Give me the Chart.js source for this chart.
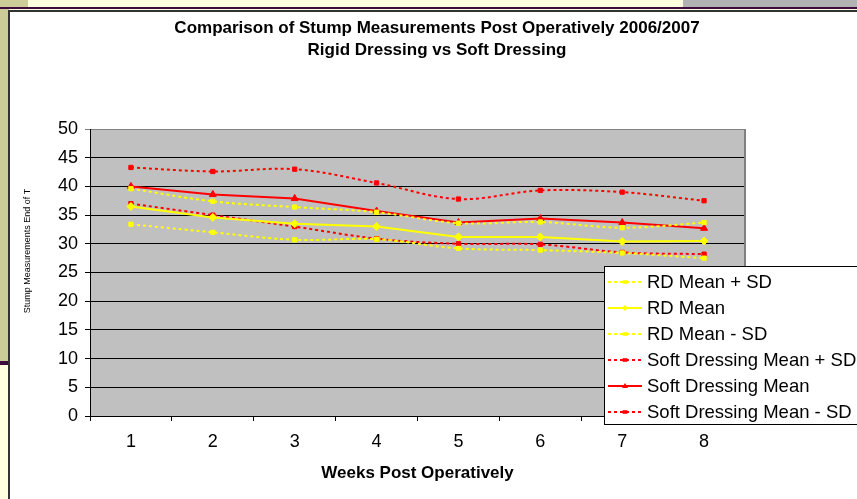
<!DOCTYPE html>
<html>
<head>
<meta charset="utf-8">
<title>Stump Measurements</title>
<script src="https://cdn.jsdelivr.net/npm/chart.js@4.4.1/dist/chart.umd.min.js"></script>
<style>
  html, body { margin: 0; padding: 0; }
  body {
    width: 857px; height: 499px; position: relative; overflow: hidden;
    background: #FFFFE0;
    font-family: "Liberation Sans", Arial, sans-serif;
  }
  .strip-olive { position: absolute; left: 0; top: 0; width: 28px; height: 8px; background: #CCCC99; }
  .strip-grey { position: absolute; left: 683px; top: 0; width: 174px; height: 8px; background: #B2B2B2; }
  .rule { position: absolute; left: 0; top: 7px; width: 857px; height: 2px; background: #3D0C3D; }
  .side-olive { position: absolute; left: 0; top: 9px; width: 9px; height: 352px; background: #CCCC99; }
  .side-rule { position: absolute; left: 0; top: 361px; width: 9px; height: 4px; background: #3D0C3D; }
  .frame {
    position: absolute; left: 8px; top: 10px; width: 870px; height: 510px;
    background: #fff; border-left: 2px solid #333; border-top: 2px solid #333;
  }
  #wrap { position: absolute; left: 0; top: 0; width: 857px; height: 499px; }
</style>
</head>
<body>
<div class="strip-olive"></div>
<div class="strip-grey"></div>
<div class="rule"></div>
<div class="side-olive"></div>
<div class="side-rule"></div>
<div class="frame"></div>
<div id="wrap"><canvas id="chart" width="857" height="499"></canvas></div>

<script>
// values
const weeks = ["1", "2", "3", "4", "5", "6", "7", "8"];
const rdMeanPlusSd = [39.6, 37.4, 36.4, 35.5, 33.6, 33.8, 32.8, 33.7];
const rdMean = [36.5, 34.6, 33.5, 33.0, 31.2, 31.2, 30.4, 30.5];
const rdMeanMinusSd = [33.4, 32.0, 30.7, 30.8, 29.2, 28.9, 28.4, 27.5];
const softMeanPlusSd = [43.3, 42.6, 43.0, 40.6, 37.8, 39.3, 39.0, 37.5];
const softMean = [40.0, 38.6, 37.9, 35.7, 33.7, 34.4, 33.7, 32.7];
const softMeanMinusSd = [37.0, 35.0, 33.0, 30.9, 30.0, 29.9, 28.5, 28.2];
const yMin = 0;
const yMax = 50;
const yStep = 5;

const chartTitle = [
  "Comparison of Stump Measurements Post Operatively 2006/2007",
  "Rigid Dressing vs Soft Dressing"
];
const yTitle = "Stump Measurements End of T";
const xTitle = "Weeks Post Operatively";

Chart.defaults.font.family = '"Liberation Sans", Arial, sans-serif';
Chart.defaults.color = "#000";

function series(label, data, color, dashed, marker, size) {
  return {
    label: label,
    data: data,
    borderColor: color,
    backgroundColor: color,
    borderWidth: 2,
    borderDash: dashed ? [3, 3] : [],
    tension: dashed ? 0.35 : 0,
    pointStyle: marker,
    pointRadius: size,
    pointBorderWidth: 1,
    pointHoverRadius: size
  };
}

function drawMarker(ctx, style, x, y, r, color) {
  ctx.save();
  ctx.fillStyle = color;
  ctx.setLineDash([]);
  ctx.beginPath();
  if (style === "rectRot") {
    ctx.moveTo(x, y - r);
    ctx.lineTo(x + r, y);
    ctx.lineTo(x, y + r);
    ctx.lineTo(x - r, y);
    ctx.closePath();
  } else if (style === "triangle") {
    ctx.moveTo(x, y - r);
    ctx.lineTo(x + r, y + r * 0.7);
    ctx.lineTo(x - r, y + r * 0.7);
    ctx.closePath();
  } else {
    ctx.rect(x - r * 0.8, y - r * 0.6, r * 1.6, r * 1.2);
  }
  ctx.fill();
  ctx.restore();
}

// grey plot background, plot border, titles and the boxed legend
const decorations = {
  id: "decorations",
  beforeDraw(chart) {
    const { ctx, chartArea: a } = chart;
    ctx.save();
    ctx.fillStyle = "#C0C0C0";
    ctx.fillRect(a.left, a.top, a.right - a.left, a.bottom - a.top);
    ctx.restore();
  },
  afterDraw(chart) {
    const { ctx, chartArea: a } = chart;
    ctx.save();
    ctx.strokeStyle = "#808080";
    ctx.lineWidth = 2;
    ctx.beginPath();
    ctx.moveTo(a.right, a.top);
    ctx.lineTo(a.right, a.bottom);
    ctx.stroke();

    ctx.fillStyle = "#000";
    ctx.textAlign = "center";
    ctx.textBaseline = "middle";
    ctx.font = 'bold 17px "Liberation Sans", Arial, sans-serif';
    ctx.fillText(chartTitle[0], 437, 28);
    ctx.fillText(chartTitle[1], 437, 50);

    ctx.translate(28, 251);
    ctx.rotate(-Math.PI / 2);
    ctx.font = '9px "Liberation Sans", Arial, sans-serif';
    ctx.fillText(yTitle, 0, 0);
    ctx.restore();

    // legend
    const bx = 604, by = 266, bw = 270, rowH = 26;
    const sets = chart.data.datasets;
    ctx.save();
    ctx.fillStyle = "#fff";
    ctx.fillRect(bx, by, bw, rowH * sets.length + 2);
    ctx.strokeStyle = "#000";
    ctx.lineWidth = 1;
    ctx.strokeRect(bx + 0.5, by + 0.5, bw, rowH * sets.length + 2);
    sets.forEach((ds, i) => {
      const y = by + 16 + i * rowH;
      ctx.strokeStyle = ds.borderColor;
      ctx.lineWidth = 2;
      ctx.setLineDash(ds.borderDash);
      ctx.beginPath();
      ctx.moveTo(bx + 4, y);
      ctx.lineTo(bx + 38, y);
      ctx.stroke();
      drawMarker(ctx, ds.pointStyle, bx + 21, y, 3, ds.borderColor);
      ctx.fillStyle = "#000";
      ctx.textAlign = "left";
      ctx.textBaseline = "middle";
      ctx.font = '18.5px "Liberation Sans", Arial, sans-serif';
      ctx.fillText(ds.label, bx + 43, y + 1);
    });
    ctx.restore();
  }
};

new Chart(document.getElementById("chart"), {
  type: "line",
  data: {
    labels: weeks,
    datasets: [
      series("RD Mean + SD", rdMeanPlusSd, "#FFFF00", true, "rect", 3),
      series("RD Mean", rdMean, "#FFFF00", false, "rectRot", 4),
      series("RD Mean - SD", rdMeanMinusSd, "#FFFF00", true, "rect", 3),
      series("Soft Dressing Mean + SD", softMeanPlusSd, "#FF0000", true, "rect", 3),
      series("Soft Dressing Mean", softMean, "#FF0000", false, "triangle", 4),
      series("Soft Dressing Mean - SD", softMeanMinusSd, "#FF0000", true, "rect", 3)
    ]
  },
  options: {
    responsive: false,
    animation: false,
    layout: { padding: { left: 0, right: 112, top: 129, bottom: 0 } },
    plugins: {
      legend: { display: false },
      title: { display: false },
      tooltip: { enabled: false }
    },
    scales: {
      x: {
        type: "category",
        offset: true,
        afterFit: (scale) => { scale.height = 83; },
        grid: {
          offset: true,
          drawOnChartArea: false,
          drawTicks: true,
          tickLength: 5,
          color: "#000"
        },
        border: { display: true, color: "#000", width: 1 },
        ticks: { font: { size: 18 }, padding: 10, color: "#000" },
        title: {
          display: true,
          text: xTitle,
          font: { size: 17, weight: "bold" },
          color: "#000",
          padding: { top: 4, bottom: 15 }
        }
      },
      y: {
        min: yMin,
        max: yMax,
        afterFit: (scale) => { scale.width = 90; },
        grid: {
          color: (c) => (c.tick && c.tick.value === yMax ? "#808080" : "#000"),
          lineWidth: 1,
          drawTicks: true,
          tickLength: 5
        },
        border: { display: true, color: "#000", width: 1 },
        ticks: { stepSize: yStep, font: { size: 18 }, padding: 7, color: "#000" }
      }
    }
  },
  plugins: [decorations]
});
</script>
</body>
</html>
